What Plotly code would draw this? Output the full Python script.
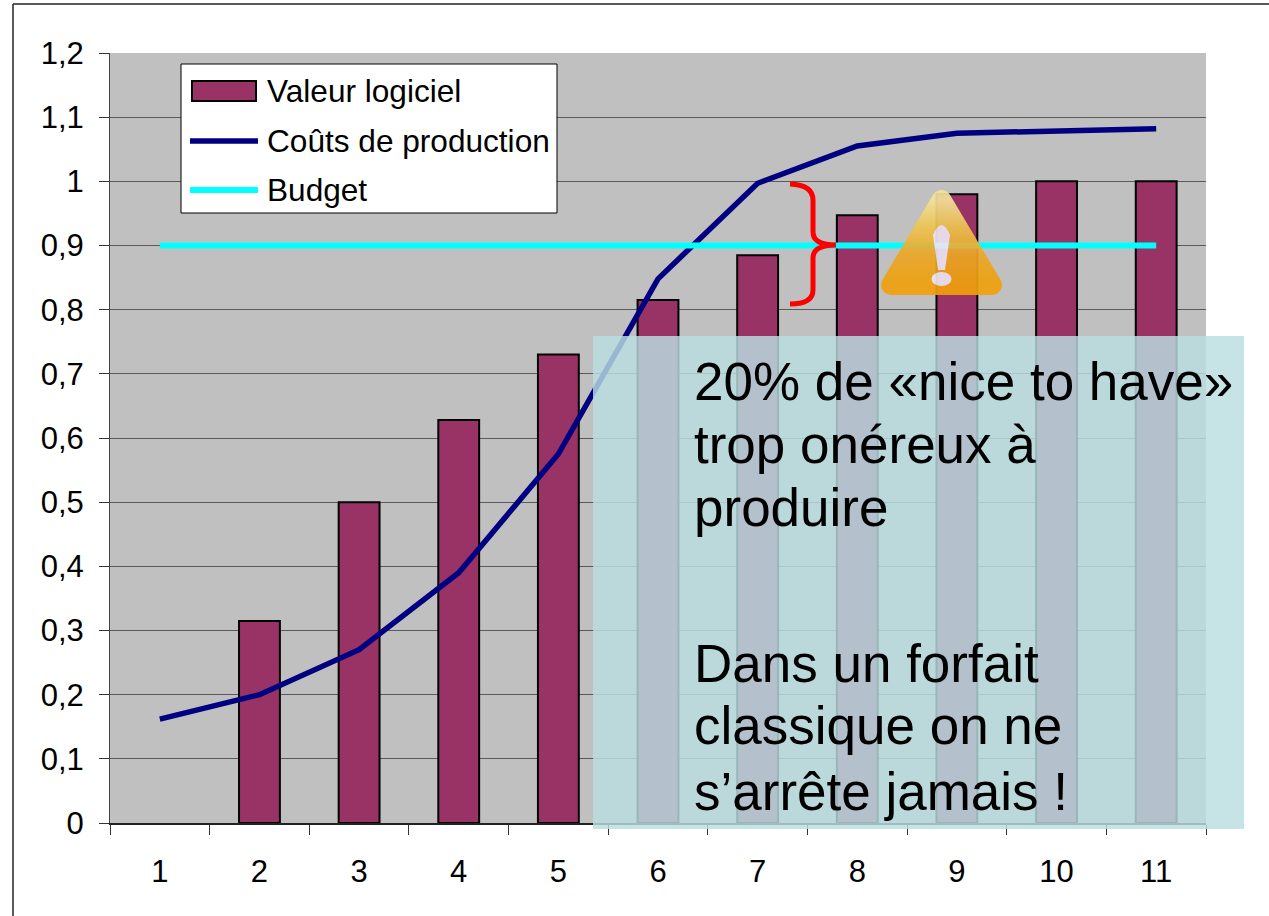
import base64
import plotly.graph_objects as go

categories = ["1", "2", "3", "4", "5", "6", "7", "8", "9", "10", "11"]
valeur_logiciel = [None, 0.315, 0.5, 0.628, 0.73, 0.815, 0.885, 0.947, 0.98, 1, 1]
couts_production = [0.162, 0.2, 0.27, 0.39, 0.575, 0.848, 0.997, 1.055, 1.075, 1.079, 1.082]
budget = [0.9] * 11
legend_labels = ["Valeur logiciel", "Coûts de production", "Budget"]
callout_lines = ["20% de «nice to have»", "trop onéreux à", "produire",
                 "Dans un forfait", "classique on ne", "s’arrête jamais !"]
callout_centres = [381, 445, 507, 663, 725, 791]

PL, PR, PT, PB = 110, 1206, 53, 823
W, H = 1269, 916


def px(x):
    return (x - PL) / (PR - PL)


def py(y):
    return (PB - y) / (PB - PT)


FONT = "Liberation Sans, Arial, sans-serif"
PURPLE, NAVY, CYAN = "#993366", "#000080", "#00FFFF"

fig = go.Figure()
fig.add_bar(x=categories, y=valeur_logiciel, name=legend_labels[0],
            marker=dict(color=PURPLE, line=dict(color="black", width=2)))
fig.add_scatter(x=categories, y=couts_production, name=legend_labels[1], mode="lines",
                line=dict(color=NAVY, width=5.5))
fig.add_scatter(x=categories, y=budget, name=legend_labels[2], mode="lines",
                line=dict(color=CYAN, width=6))


def rect(x0, y0, x1, y1, fill, line_color=None, line_width=0):
    return dict(type="rect", xref="paper", yref="paper", layer="above",
                x0=px(x0), x1=px(x1), y0=py(y0), y1=py(y1), fillcolor=fill,
                line=dict(color=line_color, width=line_width) if line_color else dict(width=0))


def seg(x0, y0, x1, y1, color, width):
    return dict(type="line", xref="paper", yref="paper", layer="above",
                x0=px(x0), x1=px(x1), y0=py(y0), y1=py(y1),
                line=dict(color=color, width=width))


def brace_path():
    pts = lambda x, y: f"{px(x):.5f},{py(y):.5f}"
    return ("M" + pts(790, 184) + " Q" + pts(813, 185) + " " + pts(813, 200) +
            " L" + pts(813, 232) + " Q" + pts(813, 245) + " " + pts(836, 245) +
            " Q" + pts(813, 245) + " " + pts(813, 258) + " L" + pts(813, 290) +
            " Q" + pts(813, 304) + " " + pts(790, 304))


shapes = [
    seg(13, 4, W + 5, 4, "#222222", 1.5),
    seg(13, 4, 13, H + 5, "#222222", 1.5),
    rect(181, 64, 557, 213, "white", "black", 1),
    rect(192, 81, 256, 101, PURPLE, "black", 2),
    seg(190, 141, 258, 141, NAVY, 5.5),
    seg(190, 190, 258, 190, CYAN, 6),
    dict(type="path", xref="paper", yref="paper", layer="above", path=brace_path(),
         line=dict(color="#FF0000", width=5), fillcolor="rgba(0,0,0,0)"),
    rect(593, 336, 1244, 829, "rgba(186,222,225,0.825)"),
]

annotations = []
for label, yc in zip(legend_labels, [91, 141, 190]):
    annotations.append(dict(text=label, xref="paper", yref="paper", x=px(267), y=py(yc),
                            xanchor="left", yanchor="middle", showarrow=False,
                            xshift=-2, font=dict(family=FONT, size=31.6, color="black")))
for line, yc in zip(callout_lines, callout_centres):
    annotations.append(dict(text=line, xref="paper", yref="paper", x=px(694), y=py(yc),
                            xanchor="left", yanchor="middle", showarrow=False,
                            xshift=-2, font=dict(family=FONT, size=53, color="black")))

svg = """<svg xmlns="http://www.w3.org/2000/svg" width="121" height="106" viewBox="0 0 121 106">
<defs><linearGradient id="g" x1="0" y1="0" x2="0" y2="1">
<stop offset="0" stop-color="#F2E29A"/><stop offset="0.3" stop-color="#EEC654"/><stop offset="0.65" stop-color="#EBA626"/><stop offset="1" stop-color="#F0A00C"/>
</linearGradient></defs>
<path d="M60.5 10 L111 95 L10 95 Z" fill="url(#g)" stroke="url(#g)" stroke-width="20" stroke-linejoin="round"/>
<path d="M52 45 Q60.5 25 69 45 L64 80 L57 80 Z" fill="#EEE6F2"/>
<ellipse cx="60.5" cy="89" rx="10" ry="7" fill="#EEE6F2"/>
</svg>"""
uri = "data:image/svg+xml;base64," + base64.b64encode(svg.encode()).decode()

fig.update_layout(
    width=W, height=H,
    margin=dict(l=PL, r=W - PR, t=PT, b=H - PB, autoexpand=False),
    paper_bgcolor="white", plot_bgcolor="#C0C0C0",
    showlegend=False, bargap=0.59, separators=", ",
    font=dict(family=FONT, size=31, color="black"),
    shapes=shapes, annotations=annotations,
    images=[dict(source=uri, xref="paper", yref="paper", x=px(881), y=py(190),
                 sizex=px(1002) - px(881), sizey=py(190) - py(296), sizing="stretch",
                 xanchor="left", yanchor="top", layer="above", opacity=0.92)],
    xaxis=dict(type="category", range=[-0.5, 10.5], tickson="boundaries", ticks="outside",
               ticklen=10, tickcolor="#333333", tickwidth=1, showgrid=False,
               showline=True, linecolor="#222222", linewidth=2, ticklabelstandoff=20,
               tickfont=dict(family=FONT, size=31, color="black")),
    yaxis=dict(range=[0, 1.2], dtick=0.1, tick0=0, ticks="outside", ticklen=10,
               tickcolor="#333333", tickwidth=1, showgrid=True, gridcolor="#5A5A5A",
               gridwidth=1, zeroline=False, showline=True, linecolor="#444444", linewidth=1,
               ticklabelstandoff=9,
               tickfont=dict(family=FONT, size=31, color="black")),
)
fig.write_html("out.html", config=dict(displayModeBar=False),
               default_width=W, default_height=H,
               post_script="document.body.style.margin='0';document.body.style.overflow='hidden';")
